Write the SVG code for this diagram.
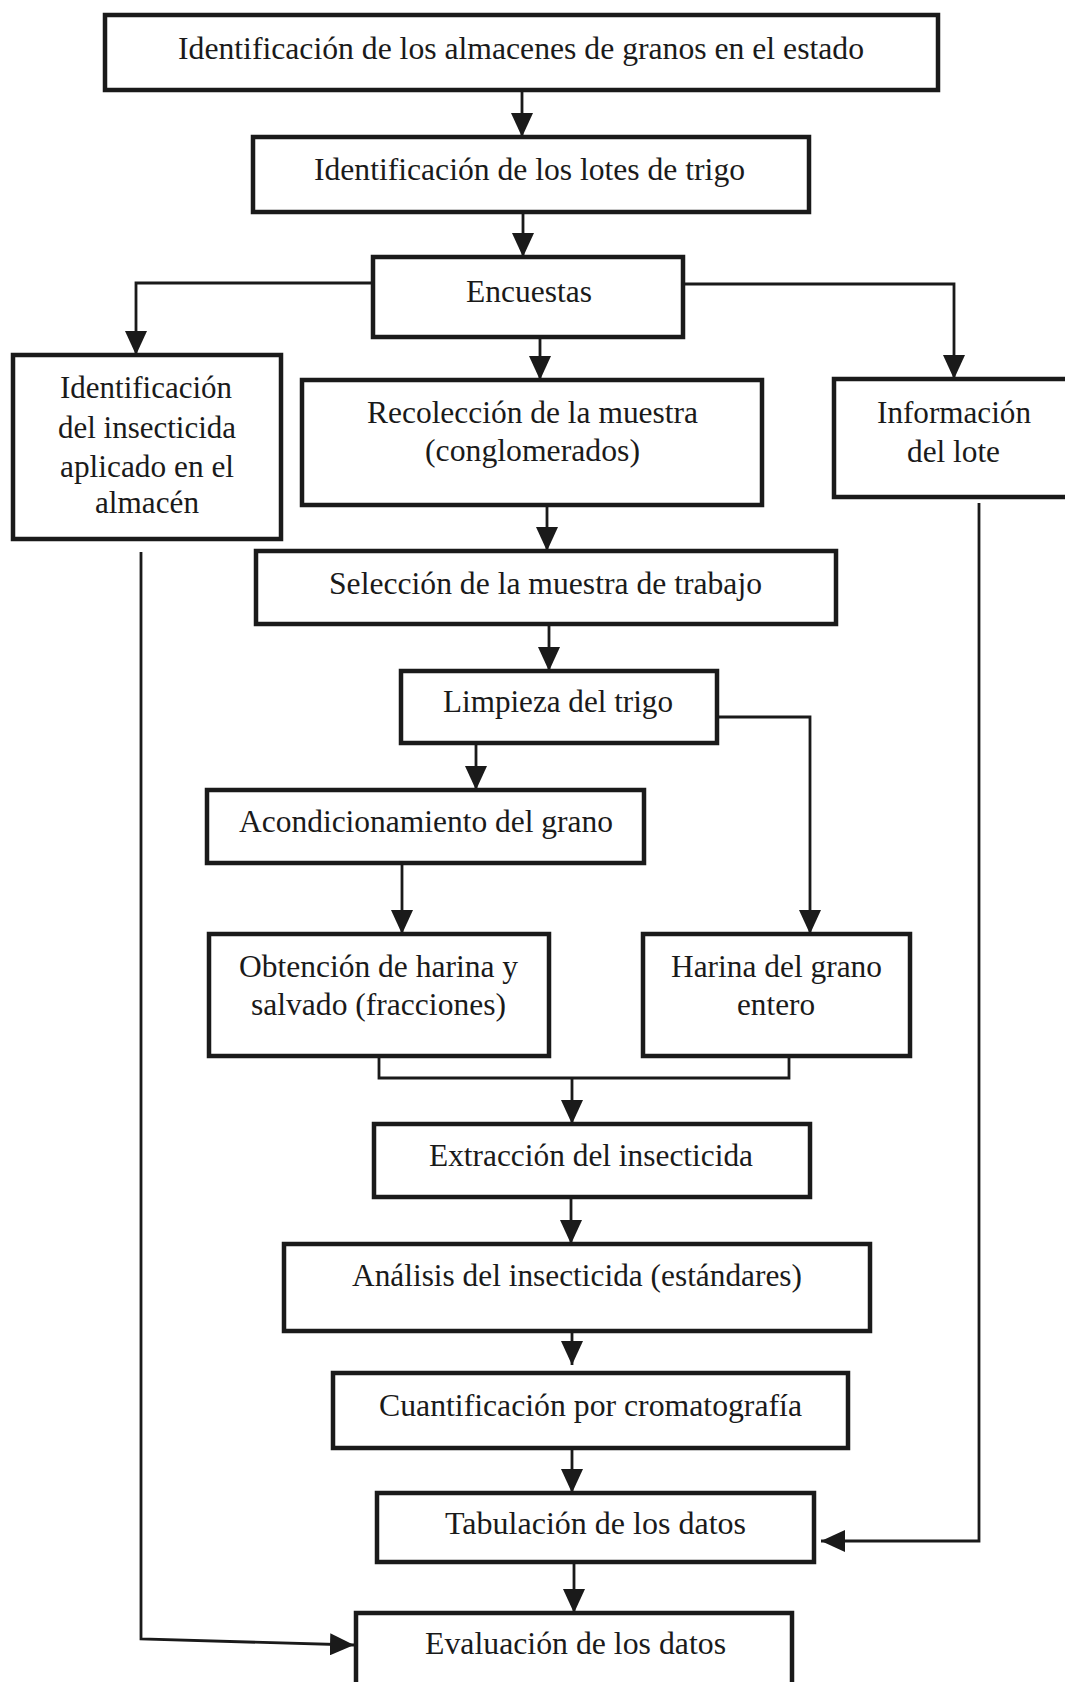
<svg xmlns="http://www.w3.org/2000/svg" width="1065" height="1682" viewBox="0 0 1065 1682">
<style>
.box{fill:#ffffff;stroke:#1a1a1a;stroke-width:4.5}
.t{font-family:"Liberation Serif","Times New Roman",serif;font-size:32px;fill:#1a1a1a;text-anchor:middle}
.c{fill:none;stroke:#1a1a1a;stroke-width:2.8}
</style>
<defs>
<marker id="ah" markerUnits="userSpaceOnUse" markerWidth="24" markerHeight="22" viewBox="0 0 24 22" refX="24" refY="11" orient="auto">
<path d="M0,0 L24,11 L0,22 Z" fill="#1a1a1a"/>
</marker>
</defs>
<rect width="1065" height="1682" fill="#ffffff"/>
<g id="connectors">
<path class="c" d="M522,90 V137" marker-end="url(#ah)"/>
<path class="c" d="M523,212 V257" marker-end="url(#ah)"/>
<path class="c" d="M373,283 H136 V355" marker-end="url(#ah)"/>
<path class="c" d="M540,337 V380" marker-end="url(#ah)"/>
<path class="c" d="M683,284 H954 V379" marker-end="url(#ah)"/>
<path class="c" d="M547,505 V551" marker-end="url(#ah)"/>
<path class="c" d="M549,624 V671" marker-end="url(#ah)"/>
<path class="c" d="M717,717 H810 V934" marker-end="url(#ah)"/>
<path class="c" d="M476,743 V790" marker-end="url(#ah)"/>
<path class="c" d="M402,864 V934" marker-end="url(#ah)"/>
<path class="c" d="M379,1057 V1078 H789 V1057"/>
<path class="c" d="M572,1078 V1124" marker-end="url(#ah)"/>
<path class="c" d="M571,1197 V1244" marker-end="url(#ah)"/>
<path class="c" d="M572,1327 V1365" marker-end="url(#ah)"/>
<path class="c" d="M572,1448 V1493" marker-end="url(#ah)"/>
<path class="c" d="M574,1562 V1613" marker-end="url(#ah)"/>
<path class="c" d="M979,503 V1541 H821" marker-end="url(#ah)"/>
<path class="c" d="M141,552 V1639 L354,1645" marker-end="url(#ah)"/>
</g>
<g id="n1"><rect class="box" x="105" y="15" width="833" height="75"/><text class="t" x="521" y="59" textLength="686" lengthAdjust="spacingAndGlyphs">Identificación de los almacenes de granos en el estado</text></g>
<g id="n2"><rect class="box" x="253" y="137" width="556" height="75"/><text class="t" x="529.5" y="180" textLength="431" lengthAdjust="spacingAndGlyphs">Identificación de los lotes de trigo</text></g>
<g id="n3"><rect class="box" x="373" y="257" width="310" height="80"/><text class="t" x="529" y="302" textLength="126" lengthAdjust="spacingAndGlyphs">Encuestas</text></g>
<g id="n4"><rect class="box" x="13" y="355" width="268" height="184"/>
<text class="t" x="146" y="398" textLength="172" lengthAdjust="spacingAndGlyphs">Identificación</text>
<text class="t" x="147" y="438" textLength="178" lengthAdjust="spacingAndGlyphs">del insecticida</text>
<text class="t" x="147" y="477" textLength="174" lengthAdjust="spacingAndGlyphs">aplicado en el</text>
<text class="t" x="147" y="513" textLength="104" lengthAdjust="spacingAndGlyphs">almacén</text></g>
<g id="n5"><rect class="box" x="302" y="380" width="460" height="125"/>
<text class="t" x="532.5" y="423" textLength="331" lengthAdjust="spacingAndGlyphs">Recolección de la muestra</text>
<text class="t" x="532.5" y="461" textLength="215" lengthAdjust="spacingAndGlyphs">(conglomerados)</text></g>
<g id="n6"><rect class="box" x="834" y="379" width="240" height="118"/>
<text class="t" x="954" y="423" textLength="154" lengthAdjust="spacingAndGlyphs">Información</text>
<text class="t" x="953.5" y="462" textLength="93" lengthAdjust="spacingAndGlyphs">del lote</text></g>
<g id="n7"><rect class="box" x="256" y="551" width="580" height="73"/><text class="t" x="545.5" y="594" textLength="433" lengthAdjust="spacingAndGlyphs">Selección de la muestra de trabajo</text></g>
<g id="n8"><rect class="box" x="401" y="671" width="316" height="72"/><text class="t" x="558" y="712" textLength="230" lengthAdjust="spacingAndGlyphs">Limpieza del trigo</text></g>
<g id="n9"><rect class="box" x="207" y="790" width="437" height="73"/><text class="t" x="426" y="832" textLength="374" lengthAdjust="spacingAndGlyphs">Acondicionamiento del grano</text></g>
<g id="n10"><rect class="box" x="209" y="934" width="340" height="122"/>
<text class="t" x="378.5" y="977" textLength="279" lengthAdjust="spacingAndGlyphs">Obtención de harina y</text>
<text class="t" x="378.5" y="1015" textLength="255" lengthAdjust="spacingAndGlyphs">salvado (fracciones)</text></g>
<g id="n11"><rect class="box" x="643" y="934" width="267" height="122"/>
<text class="t" x="776.5" y="977" textLength="211" lengthAdjust="spacingAndGlyphs">Harina del grano</text>
<text class="t" x="776" y="1015" textLength="78" lengthAdjust="spacingAndGlyphs">entero</text></g>
<g id="n12"><rect class="box" x="374" y="1124" width="436" height="73"/><text class="t" x="591" y="1166" textLength="324" lengthAdjust="spacingAndGlyphs">Extracción del insecticida</text></g>
<g id="n13"><rect class="box" x="284" y="1244" width="586" height="87"/><text class="t" x="577" y="1286" textLength="450" lengthAdjust="spacingAndGlyphs">Análisis del insecticida (estándares)</text></g>
<g id="n14"><rect class="box" x="333" y="1373" width="515" height="75"/><text class="t" x="590.5" y="1416" textLength="423" lengthAdjust="spacingAndGlyphs">Cuantificación por cromatografía</text></g>
<g id="n15"><rect class="box" x="377" y="1493" width="437" height="69"/><text class="t" x="595.5" y="1534" textLength="301" lengthAdjust="spacingAndGlyphs">Tabulación de los datos</text></g>
<g id="n16"><rect class="box" x="356" y="1613" width="436" height="80"/><text class="t" x="575.5" y="1654" textLength="301" lengthAdjust="spacingAndGlyphs">Evaluación de los datos</text></g>
</svg>
